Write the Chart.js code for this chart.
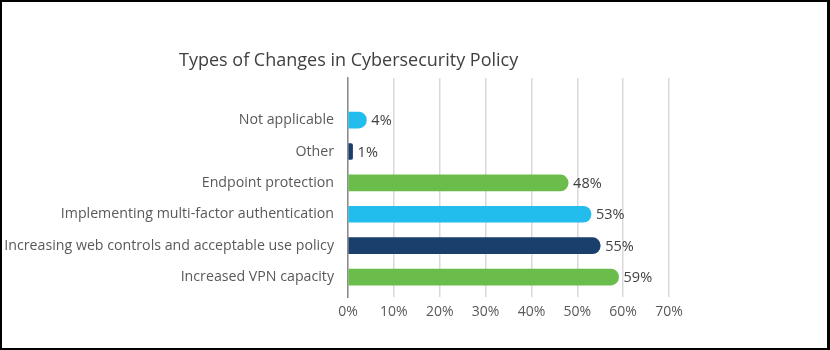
<!DOCTYPE html>
<html>
<head>
<meta charset="utf-8">
<script src="https://cdn.jsdelivr.net/npm/chart.js@4"></script>
<style>
  html, body { margin: 0; padding: 0; background: #fff; }
  #frame { position: relative; width: 830px; height: 350px; box-sizing: border-box; border: 2px solid #000; border-right-width: 3px; background: #fff; }
  #wrap { position: absolute; left: 0; top: 0; width: 825px; height: 346px; }
</style>
</head>
<body>
<div id="frame"><div id="wrap"><canvas id="c"></canvas></div></div>
<script>
const titleText = 'Types of Changes in Cybersecurity Policy';
const categories = ['Not applicable', 'Other', 'Endpoint protection', 'Implementing multi-factor authentication', 'Increasing web controls and acceptable use policy', 'Increased VPN capacity'];
const values = [4, 1, 48, 53, 55, 59];
const barColors = ['#22bdec', '#1b3f6c', '#6abd4a', '#22bdec', '#1b3f6c', '#6abd4a'];
const xTicks = [0, 10, 20, 30, 40, 50, 60, 70];

const n = categories.length;
// position index: first category at top
const points = values.map((v, i) => ({ x: v, y: n - 1 - i }));

const FONT = "'Open Sans', 'Liberation Sans', sans-serif";

const titlePlugin = {
  id: 'customTitle',
  afterDraw(chart) {
    const ctx = chart.ctx;
    ctx.save();
    ctx.font = '18px ' + FONT;
    ctx.fillStyle = '#404040';
    ctx.textBaseline = 'middle';
    ctx.textAlign = 'left';
    ctx.fillText(titleText, 177, 59);
    ctx.restore();
  }
};

const labelPlugin = {
  id: 'valueLabels',
  afterDatasetsDraw(chart) {
    const ctx = chart.ctx;
    const meta = chart.getDatasetMeta(0);
    ctx.save();
    ctx.font = '14.5px ' + FONT;
    ctx.fillStyle = '#404040';
    ctx.textBaseline = 'middle';
    ctx.textAlign = 'left';
    meta.data.forEach((el, i) => {
      ctx.fillText(values[i] + '%', el.x + 5, el.y + 1);
    });
    ctx.restore();
  }
};

new Chart(document.getElementById('c'), {
  type: 'bar',
  data: {
    datasets: [{
      data: points,
      backgroundColor: barColors,
      borderWidth: 0,
      barThickness: 16,
      borderRadius: { topLeft: 0, bottomLeft: 0, topRight: 8, bottomRight: 8 },
      borderSkipped: 'start'
    }]
  },
  plugins: [titlePlugin, labelPlugin],
  options: {
    indexAxis: 'y',
    responsive: true,
    maintainAspectRatio: false,
    animation: false,
    layout: { padding: { top: 76, left: 0, right: 158, bottom: 22 } },
    plugins: { legend: { display: false }, tooltip: { enabled: false }, title: { display: false } },
    scales: {
      x: {
        type: 'linear',
        min: 0,
        max: 70,
        afterBuildTicks(scale) { scale.ticks = xTicks.map(v => ({ value: v })); },
        ticks: {
          callback: v => v + '%',
          color: '#595959',
          font: { family: FONT, size: 14 },
          padding: 6,
          maxRotation: 0
        },
        grid: { color: '#d9d9d9', lineWidth: 1.5, drawTicks: false },
        border: { display: false }
      },
      y: {
        type: 'linear',
        offset: false,
        min: -0.64,
        max: n - 1 + 1.34,
        afterBuildTicks(scale) { scale.ticks = categories.map((c, i) => ({ value: n - 1 - i })); },
        afterFit(scale) { scale.width = 346; },
        ticks: {
          callback: v => categories[n - 1 - v],
          color: '#595959',
          font: { family: FONT, size: 14.2 },
          padding: 14
        },
        grid: { display: false, drawTicks: false },
        border: { display: true, color: '#8c8c8c', width: 1.5 }
      }
    }
  }
});
</script>
</body>
</html>
